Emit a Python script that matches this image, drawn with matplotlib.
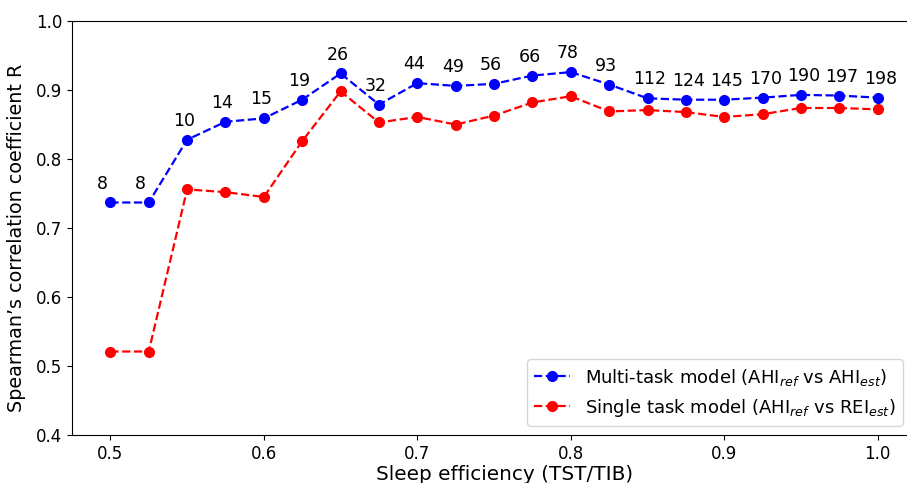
import numpy as np
import matplotlib
matplotlib.use("Agg")
import matplotlib.pyplot as plt

sleep_eff = [0.5, 0.525, 0.55, 0.575, 0.6, 0.625, 0.65, 0.675, 0.7, 0.725, 0.75,
             0.775, 0.8, 0.825, 0.85, 0.875, 0.9, 0.925, 0.95, 0.975, 1.0]
n_subjects = [8, 8, 10, 14, 15, 19, 26, 32, 44, 49, 56,
              66, 78, 93, 112, 124, 145, 170, 190, 197, 198]
r_multi = [0.737, 0.737, 0.828, 0.854, 0.859, 0.886, 0.924, 0.879, 0.910, 0.906, 0.909,
           0.921, 0.926, 0.908, 0.888, 0.886, 0.886, 0.889, 0.893, 0.892, 0.889]
r_single = [0.521, 0.521, 0.756, 0.752, 0.745, 0.826, 0.898, 0.853, 0.861, 0.850, 0.863,
            0.882, 0.891, 0.869, 0.871, 0.868, 0.861, 0.865, 0.874, 0.874, 0.872]


def main():
    fig = plt.figure(figsize=(9.07, 4.83), dpi=100)
    # the reference is cropped on the right and bottom, so the axes run past the edge
    ax = fig.add_axes([0.0794, 0.0994, 0.9306, 0.857])

    ax.plot(sleep_eff, r_multi, "o--", color="b", markersize=7, linewidth=1.6,
            label=r"Multi-task model (AHI$_{ref}$ vs AHI$_{est}$)")
    ax.plot(sleep_eff, r_single, "o--", color="r", markersize=7, linewidth=1.6,
            label=r"Single task model (AHI$_{ref}$ vs REI$_{est}$)")

    # number of subjects above each point
    for x, y, n in zip(sleep_eff, r_multi, n_subjects):
        ax.annotate(str(n), (x, y), xytext=(-10, 10), textcoords="offset points",
                    ha="left", va="baseline", fontsize=12.5)

    ax.set_xlim(0.475, 1.025)
    ax.set_ylim(0.4, 1.0)
    ax.set_xticks([0.5, 0.6, 0.7, 0.8, 0.9, 1.0])
    ax.set_yticks([0.4, 0.5, 0.6, 0.7, 0.8, 0.9, 1.0])
    ax.tick_params(labelsize=12)
    ax.set_xlabel("Sleep efficiency (TST/TIB)", fontsize=14.4)
    ax.set_ylabel("Spearman\u2019s correlation coefficient R", fontsize=13.8)
    ax.xaxis.set_label_coords(0.513, -0.072)
    ax.yaxis.set_label_coords(-0.055, 0.477)
    ax.legend(loc="lower right", fontsize=13, bbox_to_anchor=(0.995, 0.0))

    fig.savefig("out.png", dpi=100)


if __name__ == "__main__":
    main()
